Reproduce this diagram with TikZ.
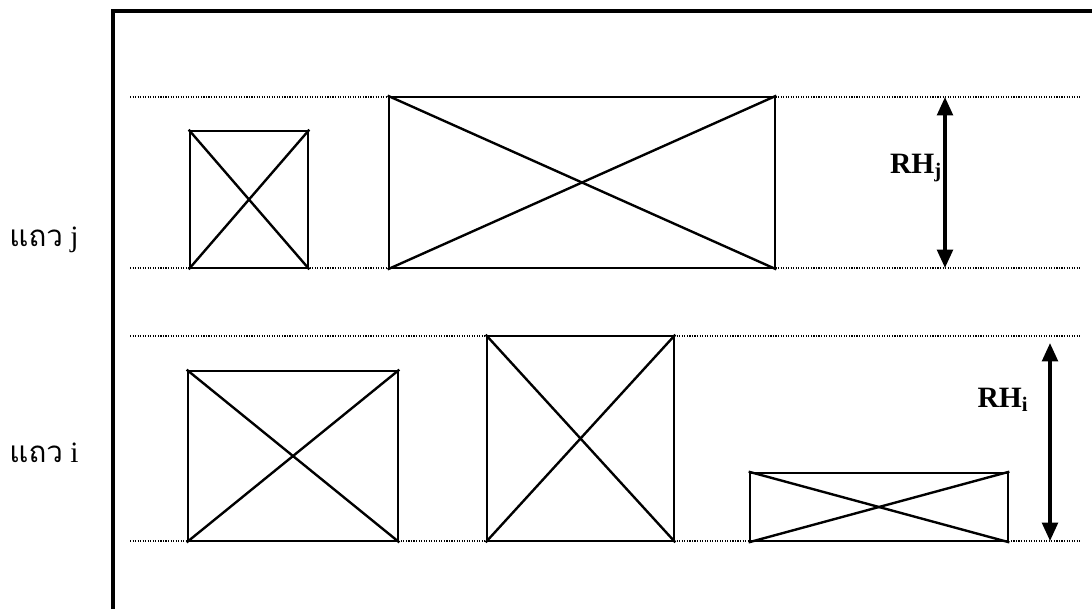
\documentclass[tikz,border=0pt]{standalone}
\usepackage{fontspec}
\setmainfont{Liberation Serif}
\newfontfamily\thaifont[Script=Thai]{Loma}
\usetikzlibrary{positioning, arrows.meta, fit}

\tikzset{
  cell/.style={draw, line width=1.9pt, inner sep=0pt},
  rowline/.style={line width=0.8pt, densely dotted},
  height/.style={line width=2.6pt, {Triangle[length=13pt,width=11pt]}-{Triangle[length=13pt,width=11pt]}},
  rowlabel/.style={font=\fontsize{21}{22}\selectfont},
  rhlabel/.style={font=\fontsize{21}{24}\selectfont\bfseries}
}

\begin{document}
\begin{tikzpicture}[x=0.025cm, y=-0.025cm]
        \useasboundingbox (0,0) rectangle (1092,608);

        % Frame
        \draw[line width=2.4pt] (113,620) -- (113,11) -- (1100,11);

        % Row limits
        \coordinate (jtopL) at (130,97);   \coordinate (jtopR) at (1080,97);
        \coordinate (jbotL) at (130,268);  \coordinate (jbotR) at (1080,268);
        \coordinate (itopL) at (130,336);  \coordinate (itopR) at (1080,336);
        \coordinate (ibotL) at (130,541);  \coordinate (ibotR) at (1080,541);
        \draw[rowline] (jtopL) -- (jtopR);
        \draw[rowline] (jbotL) -- (jbotR);
        \draw[rowline] (itopL) -- (itopR);
        \draw[rowline] (ibotL) -- (ibotR);

        % Row j
        \node[cell, fit={(190,131) (308,268)}] (j1) {};
        \node[cell, fit={(389,97) (775,268)}] (j2) {};

        % Row i
        \node[cell, fit={(188,371) (398,541)}] (i1) {};
        \node[cell, fit={(487,336) (674,541)}] (i2) {};
        \node[cell, fit={(750,473) (1008,541)}] (i3) {};

        % Crosses
        \foreach \b in {j1, j2, i1, i2, i3} {
          \draw[line width=1.7pt] (\b.north west) -- (\b.south east);
          \draw[line width=1.7pt] (\b.south west) -- (\b.north east);
        }

        % Row heights
        \coordinate (rhjtop) at (945,97);
        \coordinate (rhjbot) at (945,268);
        \coordinate (rhitop) at (1050,343);
        \coordinate (rhibot) at (1050,541);
        \draw[height] (rhjtop) -- (rhjbot);
        \draw[height] (rhitop) -- (rhibot);
        \node[rhlabel] (rhj) at (916,168) {RH\textsubscript{j}};
        \node[rhlabel] (rhi) at (1003,400) {RH\textsubscript{i}};

        % Row names
        \node[rowlabel] (rowj) at (44,240) {{\thaifont แถว} j};
        \node[rowlabel] (rowi) at (44,453) {{\thaifont แถว} i};
      \end{tikzpicture}
\end{document}
